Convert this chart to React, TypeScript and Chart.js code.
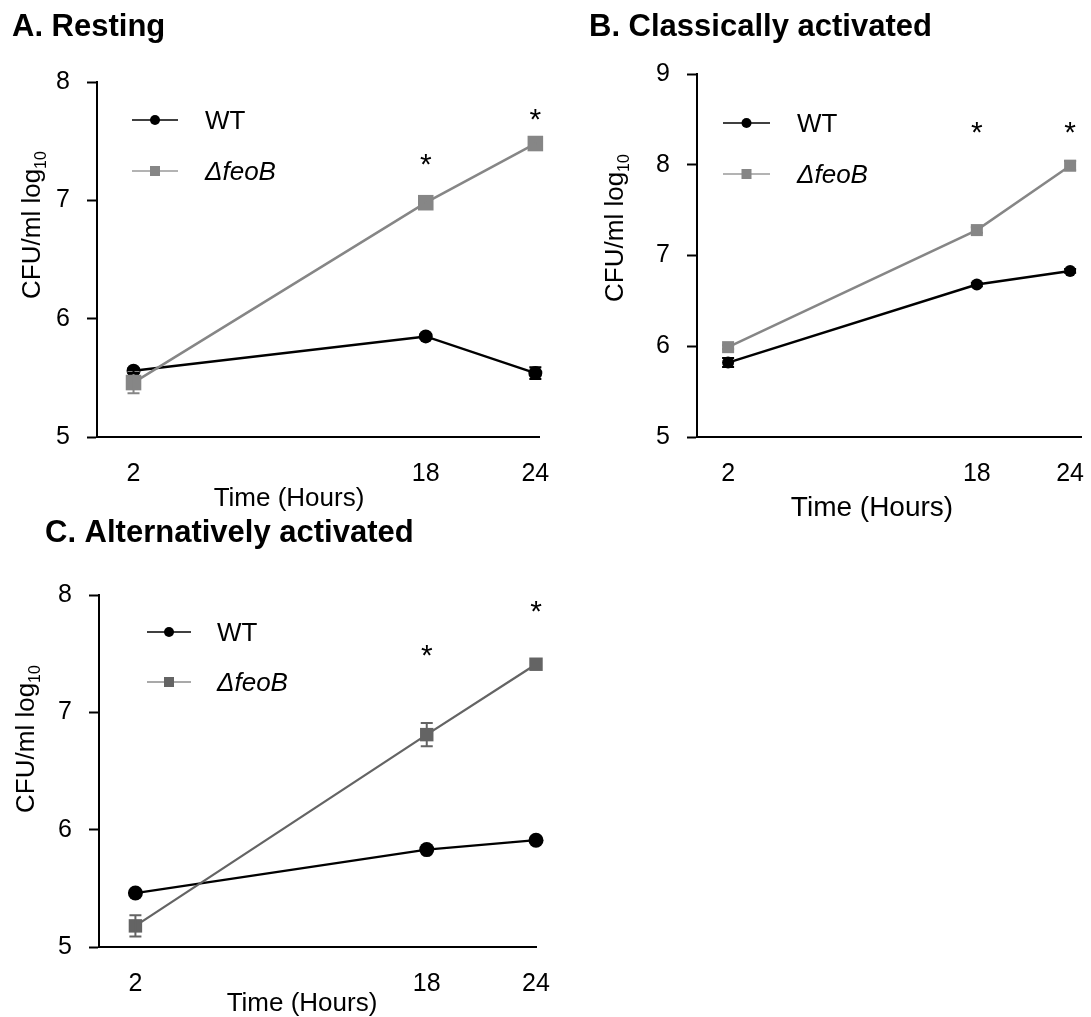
import React, { useEffect, useRef } from 'react';
import { Chart, registerables } from 'chart.js';

Chart.register(...registerables);

const FONT = '"Liberation Sans", Arial, Helvetica, sans-serif';
const PAGE_W = 1091;
const PAGE_H = 1017;

// ---------- data ----------
const timePoints = [2, 18, 24];
const xTickValues = [2, 18, 24];
const seriesLabels = ['WT', 'ΔfeoB'];
const yAxisTitle = 'CFU/ml log';
const yAxisTitleSub = '10';
const xAxisTitle = 'Time (Hours)';

// Panel A
const aTitle = 'A. Resting';
const aYTicks = [5, 6, 7, 8];
const aWT = [5.56, 5.85, 5.54];
const aWTErr = [0.02, 0.02, 0.05];
const aFeoB = [5.46, 6.98, 7.48];
const aFeoBErr = [0.09, 0.02, 0.02];
const aStarX = [18, 24];
const aStarY = [7.37, 7.75];

// Panel B
const bTitle = 'B. Classically activated';
const bYTicks = [5, 6, 7, 8, 9];
const bWT = [5.82, 6.68, 6.83];
const bWTErr = [0.05, 0.02, 0.02];
const bFeoB = [5.99, 7.28, 7.99];
const bFeoBErr = [0.02, 0.03, 0.05];
const bStarX = [18, 24];
const bStarY = [8.44, 8.44];

// Panel C
const cTitle = 'C. Alternatively activated';
const cYTicks = [5, 6, 7, 8];
const cWT = [5.46, 5.83, 5.91];
const cWTErr = [0.01, 0.01, 0.01];
const cFeoB = [5.18, 6.81, 7.41];
const cFeoBErr = [0.09, 0.1, 0.02];
const cStarX = [18, 24];
const cStarY = [7.55, 7.93];

// ---------- layout / style ----------
type Panel = {
  title: string;
  yTicks: number[];
  wt: number[];
  wtErr: number[];
  feo: number[];
  feoErr: number[];
  starX: number[];
  starY: number[];
  area: { left: number; right: number; top: number; bottom: number };
  xMax: number;
  titlePos: [number, number];
  yTitlePos: [number, number];
  xTitlePos: [number, number];
  xTitleSize: number;
  legend: { x1: number; x2: number; y1: number; y2: number; tx: number };
  feoColor: string;
  feoLegendLine: string;
  circleR: number;
  squareR: number;
  lineW: number;
};

const panels: Panel[] = [
  {
    title: aTitle, yTicks: aYTicks, wt: aWT, wtErr: aWTErr, feo: aFeoB, feoErr: aFeoBErr,
    starX: aStarX, starY: aStarY,
    area: { left: 97, right: 539, top: 82, bottom: 437 },
    xMax: 24.2,
    titlePos: [12, 25], yTitlePos: [31, 225], xTitlePos: [289, 497], xTitleSize: 26,
    legend: { x1: 132, x2: 178, y1: 120, y2: 171, tx: 205 },
    feoColor: '#868686', feoLegendLine: '#9a9a9a', circleR: 7, squareR: 11, lineW: 2.5,
  },
  {
    title: bTitle, yTicks: bYTicks, wt: bWT, wtErr: bWTErr, feo: bFeoB, feoErr: bFeoBErr,
    starX: bStarX, starY: bStarY,
    area: { left: 697, right: 1081, top: 74, bottom: 437 },
    xMax: 24.7,
    titlePos: [589, 25], yTitlePos: [614, 228], xTitlePos: [872, 506], xTitleSize: 28,
    legend: { x1: 723, x2: 770, y1: 123, y2: 174, tx: 797 },
    feoColor: '#868686', feoLegendLine: '#9a9a9a', circleR: 6, squareR: 8.5, lineW: 2.5,
  },
  {
    title: cTitle, yTicks: cYTicks, wt: cWT, wtErr: cWTErr, feo: cFeoB, feoErr: cFeoBErr,
    starX: cStarX, starY: cStarY,
    area: { left: 99, right: 536, top: 595, bottom: 947 },
    xMax: 24.0,
    titlePos: [45, 531], yTitlePos: [25, 739], xTitlePos: [302, 1002], xTitleSize: 26,
    legend: { x1: 147, x2: 191, y1: 632, y2: 682, tx: 217 },
    feoColor: '#646464', feoLegendLine: '#8c8c8c', circleR: 7.5, squareR: 9.5, lineW: 2.3,
  },
];

const Y_AXIS_W = 80;
const X_AXIS_H = 60;
const STAR_SIZE = 30;

function drawYTitle(ctx: CanvasRenderingContext2D, cx: number, cy: number, size: number) {
  ctx.save();
  ctx.translate(cx, cy);
  ctx.rotate(-Math.PI / 2);
  ctx.fillStyle = '#000';
  ctx.textBaseline = 'alphabetic';
  ctx.textAlign = 'left';
  ctx.font = `${size}px ${FONT}`;
  const w1 = ctx.measureText(yAxisTitle).width;
  const subSize = Math.round(size * 0.62);
  ctx.font = `${subSize}px ${FONT}`;
  const w2 = ctx.measureText(yAxisTitleSub).width;
  const x0 = -(w1 + w2) / 2;
  const base = size * 0.358;
  ctx.font = `${size}px ${FONT}`;
  ctx.fillText(yAxisTitle, x0, base);
  ctx.font = `${subSize}px ${FONT}`;
  ctx.fillText(yAxisTitleSub, x0 + w1, base + size * 0.22);
  ctx.restore();
}

function makePlugin(p: Panel) {
  return {
    id: 'panelDecor',
    afterDatasetsDraw(chart: any) {
      const ctx: CanvasRenderingContext2D = chart.ctx;
      const xs = chart.scales.x;
      const ys = chart.scales.y;
      chart.data.datasets.forEach((ds: any) => {
        const errs: number[] = ds.errors || [];
        ctx.save();
        ctx.strokeStyle = ds.borderColor;
        ctx.lineWidth = 2;
        ds.data.forEach((pt: any, i: number) => {
          const e = errs[i] || 0;
          if (e <= 0) return;
          const px = xs.getPixelForValue(pt.x);
          const yt = ys.getPixelForValue(pt.y + e);
          const yb = ys.getPixelForValue(pt.y - e);
          ctx.beginPath();
          ctx.moveTo(px, yt);
          ctx.lineTo(px, yb);
          ctx.moveTo(px - 6, yt);
          ctx.lineTo(px + 6, yt);
          ctx.moveTo(px - 6, yb);
          ctx.lineTo(px + 6, yb);
          ctx.stroke();
        });
        ctx.restore();
      });
    },
    afterDraw(chart: any) {
      const ctx: CanvasRenderingContext2D = chart.ctx;
      const xs = chart.scales.x;
      const ys = chart.scales.y;
      ctx.save();
      ctx.fillStyle = '#000';
      ctx.textBaseline = 'alphabetic';
      ctx.font = `bold 31px ${FONT}`;
      ctx.textAlign = 'left';
      ctx.fillText(p.title, p.titlePos[0], p.titlePos[1] + 31 * 0.358);
      ctx.font = `${p.xTitleSize}px ${FONT}`;
      ctx.textAlign = 'center';
      ctx.fillText(xAxisTitle, p.xTitlePos[0], p.xTitlePos[1] + p.xTitleSize * 0.358);
      ctx.font = `${STAR_SIZE}px ${FONT}`;
      p.starX.forEach((sx, i) => {
        const px = xs.getPixelForValue(sx);
        const py = ys.getPixelForValue(p.starY[i]);
        ctx.fillText('*', px, py + STAR_SIZE * 0.58);
      });
      ctx.restore();
      drawYTitle(ctx, p.yTitlePos[0], p.yTitlePos[1], 26);
      const L = p.legend;
      ctx.save();
      ctx.strokeStyle = '#000';
      ctx.lineWidth = 1.5;
      ctx.beginPath();
      ctx.moveTo(L.x1, L.y1);
      ctx.lineTo(L.x2, L.y1);
      ctx.stroke();
      ctx.fillStyle = '#000';
      ctx.beginPath();
      ctx.arc((L.x1 + L.x2) / 2, L.y1, 5, 0, Math.PI * 2);
      ctx.fill();
      ctx.strokeStyle = p.feoLegendLine;
      ctx.beginPath();
      ctx.moveTo(L.x1, L.y2);
      ctx.lineTo(L.x2, L.y2);
      ctx.stroke();
      ctx.fillStyle = p.feoColor;
      ctx.fillRect((L.x1 + L.x2) / 2 - 5, L.y2 - 5, 10, 10);
      ctx.fillStyle = '#000';
      ctx.textAlign = 'left';
      ctx.textBaseline = 'alphabetic';
      ctx.font = `26px ${FONT}`;
      ctx.fillText(seriesLabels[0], L.tx, L.y1 + 26 * 0.358);
      ctx.font = `italic 26px ${FONT}`;
      ctx.fillText(seriesLabels[1], L.tx, L.y2 + 26 * 0.358);
      ctx.restore();
    },
  };
}

function makeConfig(p: Panel): any {
  const yMin = p.yTicks[0];
  const yMax = p.yTicks[p.yTicks.length - 1];
  return {
    type: 'line',
    data: {
      datasets: [
        {
          label: seriesLabels[1],
          data: p.feo.map((y, i) => ({ x: timePoints[i], y })),
          errors: p.feoErr,
          borderColor: p.feoColor,
          backgroundColor: p.feoColor,
          pointBackgroundColor: p.feoColor,
          pointBorderWidth: 0,
          pointStyle: 'rect',
          pointRadius: p.squareR,
          borderWidth: p.lineW,
          tension: 0,
          clip: false,
        },
        {
          label: seriesLabels[0],
          data: p.wt.map((y, i) => ({ x: timePoints[i], y })),
          errors: p.wtErr,
          borderColor: '#000',
          backgroundColor: '#000',
          pointBackgroundColor: '#000',
          pointBorderWidth: 0,
          pointStyle: 'circle',
          pointRadius: p.circleR,
          borderWidth: p.lineW,
          tension: 0,
          clip: false,
        },
      ],
    },
    options: {
      responsive: false,
      animation: false,
      events: [],
      layout: {
        padding: {
          left: p.area.left - Y_AXIS_W,
          right: PAGE_W - p.area.right,
          top: p.area.top,
          bottom: PAGE_H - p.area.bottom - X_AXIS_H,
        },
      },
      plugins: {
        legend: { display: false },
        tooltip: { enabled: false },
        title: { display: false },
      },
      scales: {
        x: {
          type: 'linear',
          min: 0,
          max: p.xMax,
          afterBuildTicks: (s: any) => {
            s.ticks = xTickValues.map((v) => ({ value: v }));
          },
          afterFit: (s: any) => {
            s.height = X_AXIS_H;
            s.paddingLeft = 0;
            s.paddingRight = 0;
          },
          grid: { display: false },
          border: { display: true, color: '#000', width: 2 },
          ticks: {
            color: '#000',
            font: { size: 25, family: FONT },
            padding: 14,
            autoSkip: false,
            maxRotation: 0,
            minRotation: 0,
          },
        },
        y: {
          type: 'linear',
          min: yMin,
          max: yMax,
          afterBuildTicks: (s: any) => {
            s.ticks = p.yTicks.map((v) => ({ value: v }));
          },
          afterFit: (s: any) => {
            s.width = Y_AXIS_W;
            s.paddingTop = 0;
            s.paddingBottom = 0;
          },
          grid: {
            display: true,
            drawOnChartArea: false,
            drawTicks: true,
            tickLength: 10,
            tickColor: '#000',
            tickWidth: 2,
          },
          border: { display: true, color: '#000', width: 2 },
          ticks: {
            color: '#000',
            font: { size: 25, family: FONT },
            padding: 17,
          },
        },
      },
    },
    plugins: [makePlugin(p)],
  };
}

function PanelCanvas({ panel }: { panel: Panel }) {
  const ref = useRef<HTMLCanvasElement | null>(null);
  useEffect(() => {
    if (!ref.current) return;
    const chart = new Chart(ref.current, makeConfig(panel));
    return () => chart.destroy();
  }, [panel]);
  return (
    <canvas
      ref={ref}
      width={PAGE_W}
      height={PAGE_H}
      style={{ position: 'absolute', left: 0, top: 0, width: PAGE_W, height: PAGE_H, display: 'block' }}
    />
  );
}

export default function App() {
  Chart.defaults.font.family = FONT;
  return (
    <div style={{ position: 'absolute', left: 0, top: 0, width: PAGE_W, height: PAGE_H, background: '#fff' }}>
      {panels.map((p, i) => (
        <PanelCanvas key={i} panel={p} />
      ))}
    </div>
  );
}
